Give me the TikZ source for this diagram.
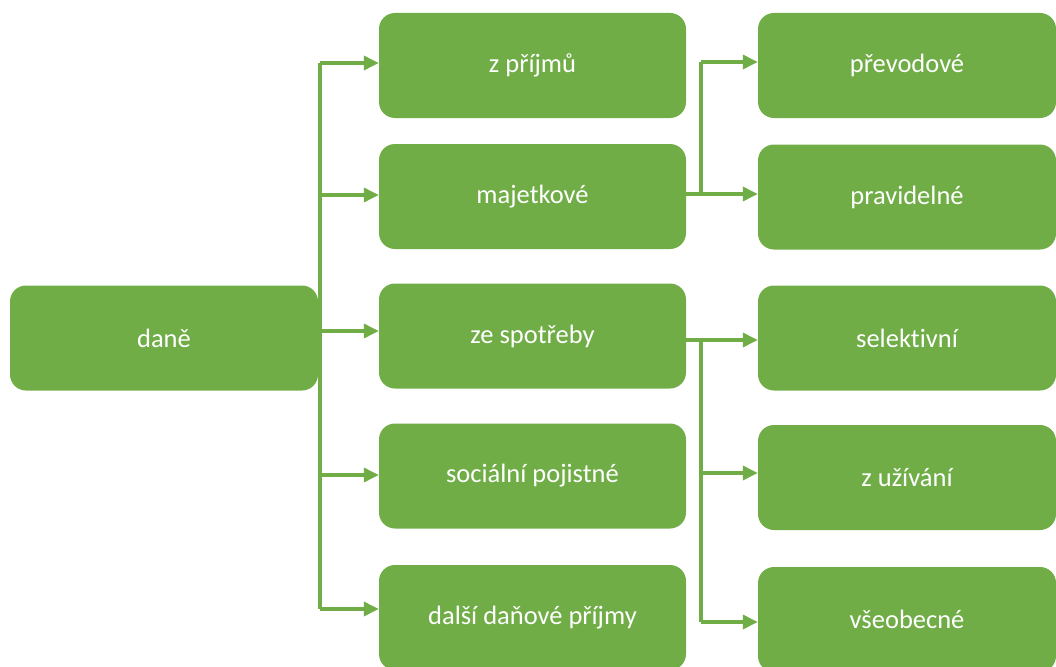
\documentclass[tikz,border=0pt]{standalone}
\usepackage{fontspec}
\setmainfont{Carlito}[Ligatures=NoCommon]
\usetikzlibrary{arrows.meta}
\definecolor{boxgreen}{HTML}{70AD47}
\begin{document}
\begin{tikzpicture}[x=1pt,y=-1pt,
  box/.style={fill=boxgreen,draw=none,rounded corners=16pt,text=white,
    font=\fontsize{26.5}{30}\selectfont,inner sep=0pt,minimum height=105pt},
  leftbox/.style={box,minimum width=308pt},
  midbox/.style={box,minimum width=307pt},
  rightbox/.style={box,minimum width=298pt},
  conn/.style={draw=boxgreen,line width=3.4pt},
  arr/.style={conn,-{Triangle[length=15pt,width=14pt]}}]
\useasboundingbox (0,0) rectangle (1056,666);
\clip (0,0) rectangle (1056,666);
% nodes
\node[leftbox] (dane) at (164,338) {daně};
\node[midbox] (m1) at (532.5,65.5) {z příjmů};
\node[midbox] (m2) at (532.5,196.5) {majetkové};
\node[midbox] (m3) at (532.5,336) {ze spotřeby};
\node[midbox] (m4) at (532.5,476) {sociální pojistné};
\node[midbox] (m5) at (532.5,617.5) {další daňové příjmy};
\node[rightbox] (r1) at (907,65.5) {převodové};
\node[rightbox] (r2) at (907,197) {pravidelné};
\node[rightbox] (r3) at (907,338) {selektivní};
\node[rightbox] (r4) at (907,477.5) {z užívání};
\node[rightbox] (r5) at (907,619.5) {všeobecné};
% trunk from dane
\coordinate (a1) at (320,63);
\coordinate (a2) at (320,195);
\coordinate (a3) at (320,331);
\coordinate (a4) at (320,475);
\coordinate (a5) at (320,609);
\draw[conn] (a1) -- (a5);
\draw[arr] (a1) -- (a1 -| m1.west);
\draw[arr] (a2) -- (a2 -| m2.west);
\draw[arr] (a3) -- (a3 -| m3.west);
\draw[arr] (a4) -- (a4 -| m4.west);
\draw[arr] (a5) -- (a5 -| m5.west);
% majetkove trunk
\coordinate (b1) at (701,62);
\coordinate (b2) at (701,194);
\draw[conn] (m2.east |- b2) -- (b2) -- (b1);
\draw[arr] (b1) -- (b1 -| r1.west);
\draw[arr] (b2) -- (b2 -| r2.west);
% ze spotreby trunk
\coordinate (c1) at (701,340);
\coordinate (c2) at (701,473);
\coordinate (c3) at (701,622);
\draw[conn] (m3.east |- c1) -- (c1) -- (c3);
\draw[arr] (c1) -- (c1 -| r3.west);
\draw[arr] (c2) -- (c2 -| r4.west);
\draw[arr] (c3) -- (c3 -| r5.west);
\end{tikzpicture}
\end{document}
